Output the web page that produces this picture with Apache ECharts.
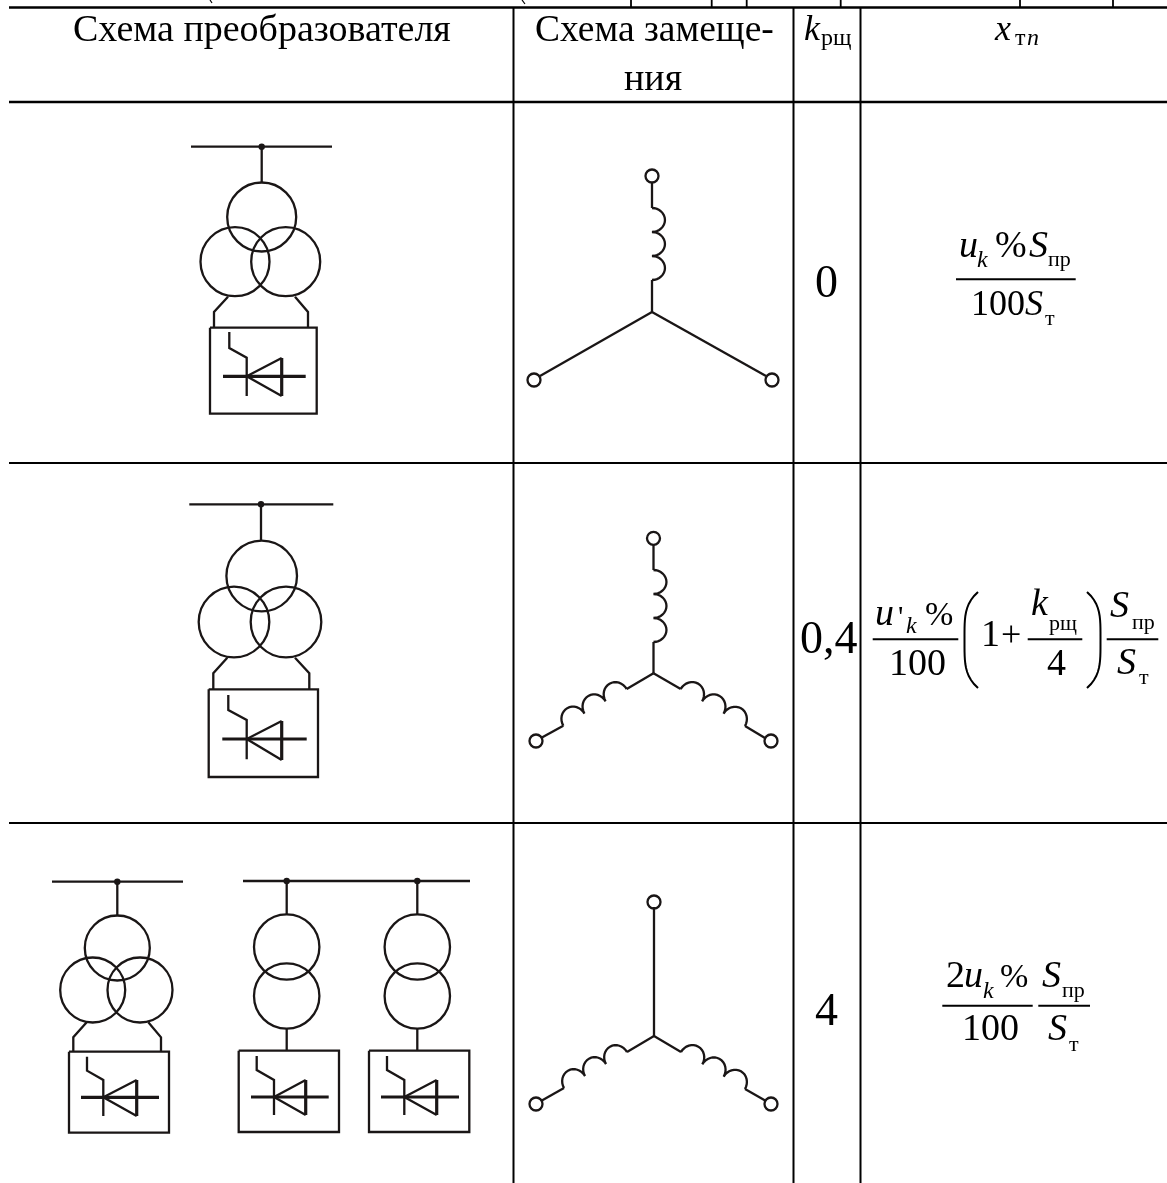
<!DOCTYPE html>
<html><head><meta charset="utf-8">
<style>html,body{margin:0;padding:0;background:#fff}#c{width:1167px;height:1183px}</style>
<script src="https://cdn.jsdelivr.net/npm/echarts@6/dist/echarts.min.js"></script>
</head><body><div id="c"></div>
<script>
// ---- table content ----
const columnHeaders = ['Схема преобразователя', 'Схема замеще-', 'ния', 'k', 'рщ', 'x', 'т', 'n'];
const kValues = ['0', '0,4', '4'];

// ---- table rules, in axis units: [x1, y1, x2, y2, weight]
const tableRules = [
  [9,7.5,1167,7.5,2.6],[9,102,1167,102,2.6],[9,463,1167,463,2.2],[9,823,1167,823,2.2],
  [513.5,7.5,513.5,1183,2],[793.5,7.5,793.5,1183,2],[860.5,7.5,860.5,1183,2],
  [631,0,631,7,1.8],[711.7,0,711.7,7,1.8],[746.7,0,746.7,7,1.8],[840.7,0,840.7,7,1.8],[1020,0,1020,7,1.8],[1113,0,1113,7,1.8],
  [210,0,212,3,1.2],[522,0,525,4,1.2]
];
// ---- schematic wires [ [x,y],[x,y],... ]
const wires = [
  // row 1
  [[191,146.7],[332,146.7]],[[261.7,146.7],[261.7,182]],
  [[228,296.7],[214,312],[214,327.7]],[[295,296.7],[308,312],[308,327.7]],
  [[210,327.7],[316.7,327.7],[316.7,413.7],[210,413.7],[210,327.7]],
  [[229.3,332],[229.3,348],[246.7,357.7],[246.7,396]],
  [[281.7,358],[246.7,376.3],[281.7,396]],
  // row 2
  [[189.3,504.3],[333.3,504.3]],[[261,504.3],[261,540.7]],
  [[227.3,657.7],[213.3,673.3],[213.3,689.3]],[[295,657.7],[309.3,673.3],[309.3,689.3]],
  [[208.7,689.3],[318,689.3],[318,777],[208.7,777],[208.7,689.3]],
  [[228.3,695],[228.3,710],[246.7,720],[246.7,759.3]],
  [[281.7,721],[246.7,739],[281.7,760]],
  // row 3 left
  [[52,881.7],[183,881.7]],[[117.3,881.7],[117.3,915]],
  [[86.7,1022.3],[73.3,1037.3],[73.3,1051.7]],[[148.3,1022.3],[161,1037.3],[161,1051.7]],
  [[69,1051.7],[169,1051.7],[169,1132.7],[69,1132.7],[69,1051.7]],
  [[87,1056.7],[87,1070.7],[103.3,1080],[103.3,1116]],
  [[136.7,1080],[103.3,1097.3],[136.7,1116]],
  // row 3 middle and right
  [[243,881],[470,881]],[[286.7,881],[286.7,914]],[[417.3,881],[417.3,914]],
  [[286.7,1029],[286.7,1050.7]],[[417.3,1029],[417.3,1050.7]],
  [[238.7,1050.7],[339,1050.7],[339,1132],[238.7,1132],[238.7,1050.7]],
  [[369,1050.7],[469.3,1050.7],[469.3,1132],[369,1132],[369,1050.7]],
  [[256.7,1056],[256.7,1070],[274,1080],[274,1115]],
  [[305.7,1080],[274,1097],[305.7,1115]],
  [[387,1056],[387,1070],[404.3,1080],[404.3,1115]],
  [[436.7,1080],[404.3,1097],[436.7,1115]],
  // equivalent circuits
  [[652,182],[652,208]],[[652,280],[652,312]],[[652,312],[540,376]],[[652,312],[766,376]],
  [[653.5,544],[653.5,570]],[[653.5,642],[653.5,673.3]],[[653.5,673.3],[626.7,689]],[[653.5,673.3],[680.7,689]],
  [[563.3,725.7],[541,738]],[[745,726],[765,738]],
  [[654,907],[654,1036]],[[654,1036],[627,1052]],[[654,1036],[681,1052]],
  [[564,1088],[541,1101]],[[745,1089],[766,1101]]
];
// ---- heavier strokes: diode backs and thyristor through-lines
const heavyStrokes = [
  [[281.7,358],[281.7,396]],[[281.7,721],[281.7,760]],[[136.7,1080],[136.7,1116]],[[305.7,1080],[305.7,1115]],[[436.7,1080],[436.7,1115]],
  [[223,376.3],[305.7,376.3]],[[222.3,739],[306.7,739]],[[81,1097.3],[159,1097.3]],[[251,1097],[328.7,1097]],[[381,1097],[459,1097]]
];
// ---- windings [cx, cy, r]
const windings = [
  [261.7,217,34.5],[235,261.7,34.5],[285.7,261.7,34.5],
  [261.7,576,35.3],[234,622,35.3],[286,622,35.3],
  [117.3,948,32.5],[92.7,990,32.5],[140,990,32.5],
  [286.7,947,32.7],[286.7,996,32.7],[417.3,947,32.7],[417.3,996,32.7]
];
// ---- junction dots [cx, cy, r]
const junctions = [[261.7,146.7,3.2],[261,504.3,3.2],[117.3,881.7,3.2],[286.7,881,3.2],[417.3,881,3.2]];
// ---- terminals [cx, cy, r]
const terminals = [
  [652,176,6.5],[534,380,6.5],[772,380,6.5],
  [653.5,538.3,6.5],[536,741,6.5],[771,741,6.5],
  [654,902,6.5],[536,1104,6.5],[771,1104,6.5]
];
// ---- inductors [x1,y1,x2,y2]
const inductors = [
  [652,208,652,280],
  [653.5,570,653.5,642],[563.3,725.7,626.7,689],[680.7,689,745,726],
  [564,1088,627,1052],[681,1052,745,1089]
];
// ---- formula bars
const fractionBars = [
  [956,279.3,1075.7,279.3],
  [872.7,639.3,958.3,639.3],[1027.7,639.3,1082.3,639.3],[1106.7,639.3,1158.3,639.3],
  [942.3,1005.7,1032.7,1005.7],[1038.3,1005.7,1090,1005.7]
];
// ---- parentheses [x at tips, y top, x at belly, y bottom]
const parens = [[978,592,964.5,688],[1087,592,1100.5,688]];
// ---- text pieces [text, x, baseline, size, italic]
const pieces = [
  [columnHeaders[0],73,44,38,0],[columnHeaders[1],535,44,37.5,0],[columnHeaders[2],624,93,38,0],
  [columnHeaders[3],804,43,36,1],[columnHeaders[4],821,47,24,0],
  [columnHeaders[5],995,43,36,1],[columnHeaders[6],1015,47,24,0],[columnHeaders[7],1027,47,24,1],
  [kValues[0],815,300,46,0],[kValues[1],800,656.7,46,0],[kValues[2],815,1028,46,0],
  ['u',959,260,38,1],['k',977,269,24,1],['%',995,260,38,0],['S',1029,260,38,1],['пр',1048,268,22,0],
  ['100',971,318,36,0],['S',1025,318,36,1],['т',1045,327,22,0],
  ['u',875,628,38,1],["'",898,628,30,0],['k',906,635,24,1],['%',925,628,34,0],['100',889,678,38,0],
  ['1',981,649,38,0],['+',1001,649,36,0],['k',1031,618,38,1],['рщ',1049,632,22,0],['4',1047,678,38,0],
  ['S',1110,620,38,1],['пр',1132,630.7,22,0],['S',1117,677.3,38,1],['т',1139,686,22,0],
  ['2',946,990,38,0],['u',964,990,38,1],['k',983,1000,24,1],['%',1000,990,34,0],['100',962,1043,38,0],
  ['S',1042,990,38,1],['пр',1062,999,22,0],['S',1048,1043,38,1],['т',1069,1053,22,0]
];

const INK = '#1a1616';
const FONT = '"Liberation Serif","Times New Roman",serif';

function segSeries(data, weightDefault, color) {
  return {
    type:'custom', coordinateSystem:'cartesian2d', silent:true, clip:false,
    data: data.map((d,i)=>[i]),
    renderItem(p, api){
      const d = data[api.value(0)];
      const pts = (Array.isArray(d[0]) ? d : [[d[0],d[1]],[d[2],d[3]]]).map(q=>api.coord(q));
      const w = (!Array.isArray(d[0]) && d[4]) || weightDefault;
      return {type:'polyline', shape:{points:pts}, style:{stroke:color, lineWidth:w, fill:'none', lineJoin:'miter'}};
    }
  };
}
function circleSeries(data, weight, fill) {
  return {
    type:'custom', coordinateSystem:'cartesian2d', silent:true, clip:false,
    data: data.map((d,i)=>[i]),
    renderItem(p, api){
      const d = data[api.value(0)];
      const c = api.coord([d[0],d[1]]);
      const r = api.size([d[2],d[2]])[0];
      return {type:'circle', shape:{cx:c[0],cy:c[1],r}, style: fill ? {fill:INK} : {stroke:INK, lineWidth:weight, fill:'none'}};
    }
  };
}
const option = {
  animation:false, backgroundColor:'#fff',
  grid:{left:0,right:0,top:0,bottom:0},
  xAxis:{type:'value',min:0,max:1167,show:false},
  yAxis:{type:'value',min:0,max:1183,inverse:true,show:false},
  tooltip:{show:false},
  series:[
    segSeries(tableRules,2,'#000'),
    segSeries(wires,2.3,INK),
    segSeries(heavyStrokes,3.2,INK),
    circleSeries(windings,2.3),
    circleSeries(junctions,0,true),
    circleSeries(terminals,2.3),
    {
      type:'custom', coordinateSystem:'cartesian2d', silent:true, clip:false,
      data: inductors.map((d,i)=>[i]),
      renderItem(p, api){
        const d = inductors[api.value(0)];
        const a = api.coord([d[0],d[1]]), b = api.coord([d[2],d[3]]);
        const turns = 3, dx=(b[0]-a[0])/turns, dy=(b[1]-a[1])/turns, L=Math.hypot(dx,dy);
        const nx=-dy/L, ny=dx/L;
        const pts=[];
        for(let t=0;t<turns;t++){
          for(let s=0;s<=16;s++){
            const th=Math.PI*s/16;
            const u=(1-Math.cos(th))/2;
            const h=Math.sin(th)*L*0.54;
            pts.push([a[0]+dx*(t+u)+nx*(-h), a[1]+dy*(t+u)+ny*(-h)]);
          }
        }
        return {type:'polyline', shape:{points:pts}, style:{stroke:INK,lineWidth:2.3,fill:'none'}};
      }
    },
    segSeries(fractionBars,2,'#000'),
    {
      type:'custom', coordinateSystem:'cartesian2d', silent:true, clip:false,
      data: parens.map((d,i)=>[i]),
      renderItem(p, api){
        const d = parens[api.value(0)];
        const a = api.coord([d[0],d[1]]), b = api.coord([d[2],d[3]]);
        const pts=[];
        for(let s=0;s<=24;s++){
          const t=s/24, y=a[1]+(b[1]-a[1])*t, k=2*t-1;
          pts.push([a[0]+(b[0]-a[0])*(1-k*k*k*k), y]);
        }
        return {type:'polyline', shape:{points:pts}, style:{stroke:'#000',lineWidth:2,fill:'none'}};
      }
    },
    {
      type:'custom', coordinateSystem:'cartesian2d', silent:true, clip:false,
      data: pieces.map((d,i)=>[i]),
      renderItem(p, api){
        const d = pieces[api.value(0)];
        const c = api.coord([d[1],d[2]]);
        return {type:'text', x:c[0], y:c[1]-d[3]*0.3375, style:{
          text:d[0], fill:'#000', align:'left', verticalAlign:'middle',
          font:(d[4]?'italic ':'')+d[3]+'px '+FONT
        }};
      }
    }
  ]
};
echarts.init(document.getElementById('c'),null,{renderer:'canvas'}).setOption(option);
</script></body></html>
